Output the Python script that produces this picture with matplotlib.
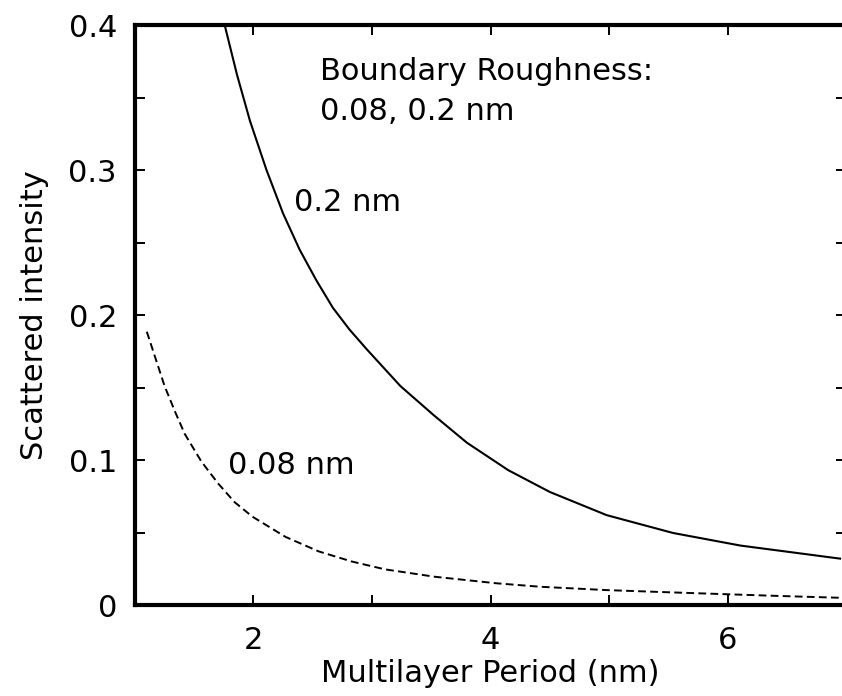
import matplotlib.pyplot as plt
from matplotlib.ticker import MultipleLocator

# scattered intensity vs multilayer period (nm) for two boundary roughness values
period_02 = [1.76, 1.86, 1.97, 2.11, 2.25, 2.39, 2.53, 2.67, 2.81, 2.96, 3.24, 3.52,
             3.80, 4.15, 4.50, 4.98, 5.54, 6.11, 6.95]
inten_02 = [0.399, 0.366, 0.334, 0.300, 0.270, 0.245, 0.224, 0.205, 0.190, 0.176, 0.151,
            0.131, 0.112, 0.093, 0.078, 0.062, 0.0497, 0.041, 0.032]

period_008 = [1.10, 1.17, 1.25, 1.34, 1.42, 1.56, 1.70, 1.84, 1.99, 2.27, 2.55, 2.83,
              3.11, 3.53, 4.05, 4.42, 4.98, 5.68, 6.38, 6.95]
inten_008 = [0.1885, 0.171, 0.151, 0.133, 0.118, 0.099, 0.084, 0.071, 0.061, 0.047, 0.037,
             0.030, 0.0246, 0.0195, 0.015, 0.0126, 0.0103, 0.0083, 0.0064, 0.0050]

plt.rcParams['font.family'] = 'DejaVu Sans'
fs = 22

fig = plt.figure(figsize=(8.42, 6.96), dpi=100)
ax = fig.add_axes([0.1603, 0.1307, 0.8445, 0.8333])

ax.plot(period_02, inten_02, color='black', lw=1.5)
ax.plot(period_008, inten_008, color='black', lw=1.4, ls=(0, (4, 2.2)))

ax.set_xlim(1, 7)
ax.set_ylim(0, 0.4)
ax.xaxis.set_major_locator(MultipleLocator(2))
ax.xaxis.set_minor_locator(MultipleLocator(1))
ax.set_yticks([0, 0.1, 0.2, 0.3, 0.4])
ax.set_yticklabels(['0', '0.1', '0.2', '0.3', '0.4'])
ax.yaxis.set_minor_locator(MultipleLocator(0.05))

for side in ax.spines.values():
    side.set_linewidth(3)

ax.tick_params(which='both', direction='in', top=True, right=True,
               length=7, width=1.4, labelsize=fs)
ax.tick_params(axis='x', pad=15)
ax.tick_params(axis='y', pad=13)

ax.set_xlabel('Multilayer Period (nm)', fontsize=fs, labelpad=3)
ax.set_ylabel('Scattered intensity', fontsize=fs, labelpad=14)

ax.text(2.56, 0.362, 'Boundary Roughness:', fontsize=fs, va='baseline')
ax.text(2.56, 0.3345, '0.08, 0.2 nm', fontsize=fs, va='baseline')
ax.text(2.34, 0.272, '0.2 nm', fontsize=fs, va='baseline')
ax.text(1.785, 0.0903, '0.08 nm', fontsize=fs, va='baseline')

fig.savefig('out.png', dpi=100)
